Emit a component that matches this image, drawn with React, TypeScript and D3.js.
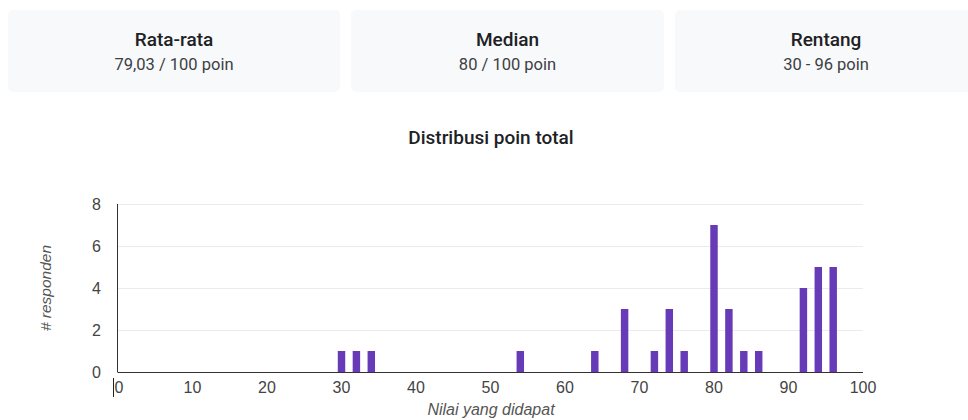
import React, { useEffect, useRef } from 'react';
import * as d3 from 'd3';

// Summary cards
const cardTitles = ['Rata-rata', 'Median', 'Rentang'];
const cardValues = ['79,03 / 100 poin', '80 / 100 poin', '30 - 96 poin'];

// Histogram data: points -> number of respondents
const scores = [30, 32, 34, 54, 64, 68, 72, 74, 76, 80, 82, 84, 86, 92, 94, 96];
const counts = [1, 1, 1, 1, 1, 3, 1, 3, 1, 7, 3, 1, 1, 4, 5, 5];

const xTicks = [0, 10, 20, 30, 40, 50, 60, 70, 80, 90, 100];
const yTicks = [0, 2, 4, 6, 8];

const W = 968;
const H = 420;
const plot = { left: 118, right: 863, top: 204, bottom: 372 };

export default function App() {
  const ref = useRef<SVGSVGElement>(null);

  useEffect(() => {
    const svg = d3.select(ref.current).html('');

    // Cards
    const cardX = [8, 351, 675];
    const cardW = [332, 313, 302];
    cardTitles.forEach((t, i) => {
      svg.append('rect')
        .attr('x', cardX[i]).attr('y', 10)
        .attr('width', cardW[i]).attr('height', 82)
        .attr('rx', 5).attr('fill', '#f8f9fa');
      const cx = cardX[i] + cardW[i] / 2;
      svg.append('text')
        .attr('x', cx).attr('y', 46)
        .attr('text-anchor', 'middle')
        .attr('font-family', 'Roboto, sans-serif')
        .attr('font-weight', 500).attr('font-size', 19)
        .attr('fill', '#202124')
        .text(t);
      svg.append('text')
        .attr('x', cx).attr('y', 70)
        .attr('text-anchor', 'middle')
        .attr('font-family', 'Roboto, sans-serif')
        .attr('font-size', 16.5)
        .attr('fill', '#3c4043')
        .text(cardValues[i]);
    });

    // Title
    svg.append('text')
      .attr('x', 491).attr('y', 144)
      .attr('text-anchor', 'middle')
      .attr('font-family', 'Roboto, sans-serif')
      .attr('font-weight', 500).attr('font-size', 19)
      .attr('fill', '#202124')
      .text('Distribusi poin total');

    const x = d3.scaleLinear().domain([0, 100]).range([plot.left, plot.right]);
    const y = d3.scaleLinear().domain([0, 8]).range([plot.bottom, plot.top]);
    const font = 'Arial, "Liberation Sans", sans-serif';

    // Gridlines
    svg.append('g').selectAll('line')
      .data(yTicks.filter((d) => d > 0))
      .enter().append('line')
      .attr('x1', plot.left).attr('x2', plot.right)
      .attr('y1', (d) => y(d) + 0.5).attr('y2', (d) => y(d) + 0.5)
      .attr('stroke', '#ebebeb');

    // Y labels
    svg.append('g').selectAll('text')
      .data(yTicks)
      .enter().append('text')
      .attr('x', 101).attr('y', (d) => y(d) + 6)
      .attr('text-anchor', 'end')
      .attr('font-family', font).attr('font-size', 16)
      .attr('fill', '#444')
      .text((d) => d);

    // X labels
    svg.append('g').selectAll('text')
      .data(xTicks)
      .enter().append('text')
      .attr('x', (d) => x(d) + (d === 0 ? 1 : 0)).attr('y', 393)
      .attr('text-anchor', 'middle')
      .attr('font-family', font).attr('font-size', 16)
      .attr('fill', '#444')
      .text((d) => d);

    // Bars
    const bw = x(1) - x(0);
    svg.append('g').selectAll('rect')
      .data(scores)
      .enter().append('rect')
      .attr('x', (d) => x(d) - bw / 2)
      .attr('y', (d, i) => y(counts[i]))
      .attr('width', bw)
      .attr('height', (d, i) => y(0) - y(counts[i]))
      .attr('fill', '#673ab7');

    // Axis lines
    svg.append('line')
      .attr('x1', plot.left - 0.5).attr('x2', plot.right)
      .attr('y1', plot.bottom + 0.5).attr('y2', plot.bottom + 0.5)
      .attr('stroke', '#333');
    svg.append('line')
      .attr('x1', plot.left - 0.5).attr('x2', plot.left - 0.5)
      .attr('y1', plot.top).attr('y2', plot.bottom)
      .attr('stroke', '#333');
    // Small cursor mark next to the 0 label
    svg.append('line')
      .attr('x1', 113.5).attr('x2', 113.5)
      .attr('y1', 378).attr('y2', 397)
      .attr('stroke', '#222');

    // Axis titles
    svg.append('text')
      .attr('x', 491).attr('y', 415)
      .attr('text-anchor', 'middle')
      .attr('font-family', font).attr('font-style', 'italic').attr('font-size', 16)
      .attr('fill', '#555')
      .text('Nilai yang didapat');
    svg.append('text')
      .attr('transform', 'translate(51,288) rotate(-90)')
      .attr('text-anchor', 'middle')
      .attr('font-family', font).attr('font-style', 'italic').attr('font-size', 15.5)
      .attr('fill', '#555')
      .text('# responden');
  }, []);

  return (
    <svg
      ref={ref}
      width={W}
      height={H}
      style={{ position: 'fixed', left: 0, top: 0, background: '#fff' }}
    />
  );
}
